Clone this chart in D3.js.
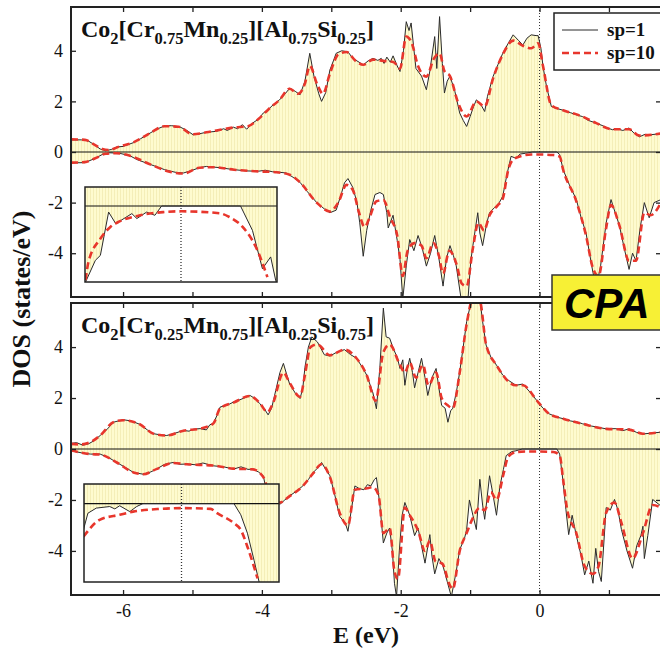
<!DOCTYPE html>
<html><head><meta charset="utf-8">
<script src="https://cdn.jsdelivr.net/npm/d3@7"></script>
<style>
html,body{margin:0;padding:0;background:#fff;}
svg{display:block;}
</style></head>
<body><svg id="chart" width="660" height="649" font-family="Liberation Serif, Times New Roman, serif"></svg>
<script>
// ---------------- DATA ----------------
const xTicks = [-6,-5,-4,-3,-2,-1,0,1];
const xTickLabels = ["-6","","-4","","-2","","0",""];
const yTicks = [-4,-2,0,2,4];
const yTickLabels = ["-4","-2","0","2","4"];
const seriesNames = ["sp=1","sp=10"];

// Top panel: Co2[Cr0.75Mn0.25][Al0.75Si0.25]
const topUpSp1 = [[-6.75,0.48],[-6.6,0.48],[-6.52,0.47],[-6.42,0.3],[-6.33,0.12],[-6.25,0.05],[-6.17,0.1],[-6.09,0.2],[-6.0,0.22],[-5.92,0.3],[-5.85,0.37],[-5.75,0.52],[-5.61,0.75],[-5.5,0.92],[-5.4,1.03],[-5.3,1.04],[-5.18,0.99],[-5.08,0.85],[-4.99,0.68],[-4.9,0.72],[-4.8,0.78],[-4.72,0.8],[-4.65,0.82],[-4.55,0.92],[-4.5,0.85],[-4.41,0.98],[-4.35,0.92],[-4.28,1.08],[-4.22,0.9],[-4.13,1.15],[-4.05,1.3],[-3.98,1.54],[-3.9,1.7],[-3.84,1.86],[-3.75,2.05],[-3.68,2.25],[-3.6,2.52],[-3.52,2.4],[-3.45,2.26],[-3.38,2.8],[-3.31,3.9],[-3.25,3.0],[-3.18,2.3],[-3.14,2.0],[-3.08,2.35],[-3.02,3.24],[-2.97,3.6],[-2.93,3.9],[-2.85,4.0],[-2.76,3.96],[-2.69,3.7],[-2.6,3.55],[-2.54,3.44],[-2.47,3.6],[-2.4,3.7],[-2.33,3.62],[-2.28,3.7],[-2.24,3.5],[-2.2,3.75],[-2.15,3.55],[-2.11,3.8],[-2.05,3.4],[-2.01,3.18],[-1.96,4.0],[-1.92,5.15],[-1.88,4.8],[-1.85,5.1],[-1.8,3.8],[-1.78,3.3],[-1.7,3.0],[-1.63,2.46],[-1.58,3.2],[-1.51,4.56],[-1.48,3.3],[-1.44,5.35],[-1.4,3.5],[-1.37,2.33],[-1.33,2.8],[-1.29,3.0],[-1.22,2.4],[-1.15,1.54],[-1.1,1.25],[-1.05,1.01],[-1.0,1.4],[-0.95,1.8],[-0.91,2.06],[-0.85,1.9],[-0.79,1.6],[-0.75,2.2],[-0.67,2.98],[-0.6,3.45],[-0.53,3.9],[-0.45,4.3],[-0.38,4.63],[-0.3,4.4],[-0.24,4.23],[-0.18,4.5],[-0.12,4.63],[-0.05,4.6],[-0.02,4.6],[0.02,4.1],[0.05,3.38],[0.1,2.6],[0.17,1.8],[0.25,1.72],[0.34,1.65],[0.45,1.55],[0.55,1.45],[0.62,1.4],[0.7,1.25],[0.81,1.15],[0.9,1.05],[0.98,0.95],[1.05,0.88],[1.12,0.92],[1.2,0.85],[1.29,0.95],[1.36,0.75],[1.44,0.6],[1.52,0.7],[1.6,0.68],[1.75,0.73]];
const topUpSp10 = [[-6.75,0.5],[-6.55,0.48],[-6.42,0.3],[-6.3,0.12],[-6.2,0.08],[-6.05,0.22],[-5.85,0.38],[-5.61,0.75],[-5.4,1.02],[-5.2,1.0],[-5.0,0.7],[-4.8,0.78],[-4.6,0.88],[-4.4,0.97],[-4.2,1.02],[-4.05,1.3],[-3.9,1.7],[-3.75,2.05],[-3.6,2.5],[-3.48,2.3],[-3.38,2.7],[-3.31,3.4],[-3.2,2.65],[-3.12,2.3],[-3.02,3.1],[-2.9,3.85],[-2.78,3.95],[-2.65,3.6],[-2.54,3.45],[-2.4,3.65],[-2.25,3.6],[-2.1,3.55],[-2.01,3.3],[-1.92,4.56],[-1.84,4.3],[-1.75,3.4],[-1.63,2.98],[-1.52,3.7],[-1.44,3.9],[-1.37,3.2],[-1.29,3.0],[-1.18,2.0],[-1.05,1.4],[-0.91,2.0],[-0.79,1.8],[-0.67,2.9],[-0.53,3.85],[-0.38,4.4],[-0.24,4.2],[-0.12,4.1],[-0.02,4.3],[0.05,3.4],[0.17,1.85],[0.34,1.65],[0.62,1.4],[0.81,1.15],[1.05,0.9],[1.29,0.9],[1.44,0.65],[1.75,0.73]];
const topDnSp1 = [[-6.75,-0.43],[-6.55,-0.42],[-6.4,-0.25],[-6.3,-0.1],[-6.2,-0.03],[-6.05,-0.05],[-5.9,-0.15],[-5.8,-0.3],[-5.6,-0.5],[-5.4,-0.7],[-5.25,-0.8],[-5.13,-0.83],[-5.0,-0.72],[-4.9,-0.62],[-4.8,-0.57],[-4.6,-0.62],[-4.4,-0.7],[-4.2,-0.75],[-4.05,-0.76],[-3.95,-0.72],[-3.85,-0.78],[-3.75,-0.8],[-3.65,-0.83],[-3.55,-1.0],[-3.45,-1.2],[-3.35,-1.55],[-3.21,-2.0],[-3.1,-2.25],[-3.02,-2.4],[-2.93,-2.3],[-2.85,-1.6],[-2.81,-1.22],[-2.76,-1.05],[-2.69,-1.4],[-2.63,-2.0],[-2.59,-2.8],[-2.54,-4.12],[-2.49,-3.1],[-2.43,-2.3],[-2.37,-1.68],[-2.3,-1.6],[-2.25,-1.68],[-2.2,-2.4],[-2.18,-3.0],[-2.11,-2.5],[-2.05,-3.5],[-2.01,-4.25],[-1.97,-5.8],[-1.92,-4.5],[-1.87,-3.46],[-1.81,-3.9],[-1.75,-3.3],[-1.69,-3.8],[-1.63,-4.51],[-1.57,-4.0],[-1.51,-3.3],[-1.45,-4.2],[-1.39,-5.3],[-1.34,-4.2],[-1.29,-3.7],[-1.24,-4.1],[-1.2,-4.5],[-1.13,-5.8],[-1.03,-5.8],[-0.99,-4.3],[-0.96,-3.7],[-0.89,-2.4],[-0.86,-3.2],[-0.82,-3.7],[-0.76,-2.8],[-0.72,-2.4],[-0.65,-2.2],[-0.58,-2.0],[-0.53,-1.75],[-0.47,-0.9],[-0.41,-0.17],[-0.34,-0.25],[-0.28,-0.08],[-0.2,-0.05],[-0.1,0],[0.25,0],[0.29,-0.1],[0.34,-0.7],[0.43,-1.3],[0.53,-1.88],[0.6,-2.6],[0.67,-3.2],[0.72,-4.0],[0.77,-4.77],[0.82,-5.3],[0.88,-4.5],[0.96,-2.8],[1.03,-1.88],[1.09,-2.4],[1.15,-2.9],[1.22,-3.8],[1.29,-4.64],[1.34,-4.0],[1.39,-4.3],[1.45,-3.0],[1.51,-2.0],[1.58,-2.6],[1.65,-2.0],[1.75,-1.88]];
const topDnSp10 = [[-6.75,-0.42],[-6.55,-0.4],[-6.4,-0.25],[-6.25,-0.07],[-6.1,-0.05],[-5.9,-0.15],[-5.6,-0.5],[-5.3,-0.8],[-5.13,-0.85],[-4.9,-0.62],[-4.7,-0.6],[-4.4,-0.7],[-4.1,-0.76],[-3.8,-0.8],[-3.6,-0.9],[-3.45,-1.2],[-3.21,-2.0],[-3.02,-2.35],[-2.9,-2.0],[-2.78,-1.3],[-2.69,-1.5],[-2.6,-2.4],[-2.52,-2.96],[-2.45,-2.6],[-2.35,-1.95],[-2.25,-1.9],[-2.15,-2.6],[-2.05,-3.3],[-1.97,-4.9],[-1.9,-3.9],[-1.8,-3.6],[-1.7,-3.7],[-1.63,-4.2],[-1.53,-3.6],[-1.45,-4.1],[-1.39,-4.8],[-1.3,-3.9],[-1.2,-4.4],[-1.12,-5.2],[-1.05,-5.3],[-0.96,-3.8],[-0.88,-2.8],[-0.8,-3.1],[-0.72,-2.5],[-0.6,-2.1],[-0.53,-1.85],[-0.45,-0.7],[-0.38,-0.3],[-0.25,-0.15],[-0.12,-0.1],[0.0,-0.1],[0.2,-0.12],[0.29,-0.18],[0.34,-0.7],[0.53,-1.95],[0.67,-3.3],[0.77,-4.6],[0.85,-4.9],[0.96,-3.0],[1.03,-2.1],[1.15,-2.9],[1.29,-4.3],[1.39,-4.3],[1.51,-2.4],[1.6,-2.5],[1.75,-2.0]];

// Bottom panel: Co2[Cr0.25Mn0.75][Al0.25Si0.75]
const botUpSp1 = [[-6.75,0.22],[-6.67,0.25],[-6.58,0.15],[-6.5,0.2],[-6.42,0.32],[-6.33,0.53],[-6.22,0.8],[-6.14,1.05],[-6.0,1.15],[-5.88,1.1],[-5.76,0.97],[-5.65,0.75],[-5.56,0.6],[-5.45,0.55],[-5.37,0.53],[-5.25,0.62],[-5.13,0.73],[-5.05,0.7],[-4.98,0.78],[-4.89,0.8],[-4.8,0.75],[-4.75,0.95],[-4.7,1.0],[-4.65,1.3],[-4.6,1.65],[-4.5,1.72],[-4.41,1.84],[-4.3,1.95],[-4.17,2.1],[-4.1,1.98],[-4.03,1.78],[-3.97,1.6],[-3.91,1.34],[-3.86,1.6],[-3.8,2.3],[-3.74,3.0],[-3.69,3.36],[-3.64,2.9],[-3.6,2.55],[-3.52,2.2],[-3.45,1.98],[-3.41,2.4],[-3.38,3.2],[-3.33,4.0],[-3.28,4.4],[-3.2,4.2],[-3.1,3.7],[-3.02,3.65],[-2.92,3.8],[-2.81,3.9],[-2.72,3.7],[-2.64,3.57],[-2.55,3.2],[-2.49,2.9],[-2.4,2.2],[-2.35,1.58],[-2.3,3.2],[-2.25,5.53],[-2.21,4.4],[-2.16,4.35],[-2.1,3.9],[-2.05,3.6],[-2.01,3.16],[-1.97,3.5],[-1.94,2.5],[-1.9,3.2],[-1.87,3.56],[-1.83,3.0],[-1.8,2.4],[-1.75,3.0],[-1.7,3.56],[-1.65,2.8],[-1.61,2.1],[-1.55,2.8],[-1.49,3.16],[-1.45,2.4],[-1.41,1.71],[-1.36,1.6],[-1.32,1.05],[-1.28,1.5],[-1.25,1.6],[-1.2,2.2],[-1.15,3.03],[-1.1,4.0],[-1.05,5.0],[-1.0,5.6],[-0.96,6.0],[-0.86,5.9],[-0.82,5.0],[-0.77,4.08],[-0.7,3.6],[-0.62,3.29],[-0.53,2.9],[-0.45,2.7],[-0.34,2.5],[-0.24,2.55],[-0.14,2.24],[-0.02,1.84],[0.05,1.6],[0.14,1.38],[0.25,1.25],[0.34,1.19],[0.45,1.1],[0.55,1.05],[0.62,0.99],[0.75,0.9],[0.85,0.85],[0.96,0.79],[1.1,0.8],[1.2,0.72],[1.29,0.79],[1.4,0.65],[1.49,0.59],[1.6,0.62],[1.75,0.66]];
const botUpSp10 = [[-6.75,0.2],[-6.6,0.18],[-6.45,0.3],[-6.33,0.53],[-6.14,1.05],[-6.0,1.13],[-5.76,0.97],[-5.56,0.6],[-5.37,0.53],[-5.13,0.72],[-4.89,0.8],[-4.7,1.0],[-4.6,1.6],[-4.41,1.82],[-4.17,2.08],[-4.03,1.8],[-3.92,1.45],[-3.84,1.8],[-3.69,3.0],[-3.6,2.6],[-3.45,2.05],[-3.38,2.9],[-3.3,4.0],[-3.2,4.1],[-3.02,3.68],[-2.81,3.9],[-2.64,3.57],[-2.49,2.9],[-2.36,1.9],[-2.25,3.8],[-2.16,4.1],[-2.01,3.3],[-1.94,3.0],[-1.87,3.4],[-1.78,2.8],[-1.68,3.3],[-1.6,2.5],[-1.49,3.0],[-1.41,2.0],[-1.32,1.71],[-1.25,1.6],[-1.15,3.0],[-1.05,4.9],[-0.96,5.9],[-0.86,5.8],[-0.77,4.1],[-0.62,3.29],[-0.34,2.5],[-0.24,2.5],[-0.02,1.84],[0.14,1.38],[0.34,1.19],[0.62,0.99],[0.96,0.79],[1.29,0.76],[1.49,0.6],[1.75,0.66]];
const botDnSp1 = [[-6.75,-0.07],[-6.6,-0.15],[-6.47,-0.2],[-6.33,-0.2],[-6.2,-0.35],[-6.09,-0.53],[-5.95,-0.75],[-5.85,-0.92],[-5.71,-0.99],[-5.6,-0.9],[-5.52,-0.79],[-5.4,-0.6],[-5.28,-0.53],[-5.18,-0.6],[-5.08,-0.59],[-4.95,-0.62],[-4.85,-0.55],[-4.7,-0.66],[-4.55,-0.7],[-4.41,-0.79],[-4.3,-0.7],[-4.2,-0.8],[-4.13,-0.79],[-4.05,-0.9],[-3.98,-1.05],[-3.93,-1.71],[-3.85,-1.9],[-3.74,-2.17],[-3.67,-2.0],[-3.6,-1.84],[-3.5,-1.65],[-3.41,-1.45],[-3.33,-1.2],[-3.26,-0.92],[-3.18,-0.7],[-3.14,-0.53],[-3.08,-0.8],[-3.02,-1.05],[-2.95,-1.8],[-2.88,-2.64],[-2.8,-2.9],[-2.76,-3.23],[-2.7,-2.2],[-2.66,-1.45],[-2.6,-1.55],[-2.53,-1.6],[-2.48,-1.4],[-2.43,-1.45],[-2.38,-1.2],[-2.35,-1.12],[-2.3,-2.2],[-2.25,-3.69],[-2.2,-3.3],[-2.16,-3.1],[-2.12,-4.0],[-2.09,-5.27],[-2.06,-5.8],[-2.02,-4.0],[-1.98,-2.6],[-1.94,-2.1],[-1.87,-2.6],[-1.8,-3.4],[-1.75,-3.1],[-1.7,-3.8],[-1.65,-4.48],[-1.58,-3.36],[-1.55,-4.2],[-1.51,-4.9],[-1.45,-4.3],[-1.39,-4.6],[-1.33,-5.2],[-1.27,-5.8],[-1.2,-4.8],[-1.15,-3.95],[-1.08,-3.5],[-1.05,-3.16],[-1.01,-2.0],[-0.96,-2.6],[-0.91,-3.16],[-0.86,-1.19],[-0.82,-2.2],[-0.79,-2.76],[-0.72,-1.05],[-0.67,-1.8],[-0.62,-2.6],[-0.57,-1.45],[-0.52,-0.8],[-0.48,-0.26],[-0.4,-0.1],[-0.34,-0.07],[-0.25,0],[0.25,0],[0.29,-0.2],[0.34,-1.3],[0.38,-2.37],[0.42,-3.36],[0.47,-2.6],[0.53,-3.4],[0.6,-4.2],[0.65,-4.94],[0.71,-4.4],[0.77,-5.27],[0.81,-3.9],[0.85,-4.8],[0.89,-5.2],[0.96,-2.3],[1.02,-2.4],[1.08,-1.98],[1.13,-2.4],[1.18,-3.16],[1.26,-4.0],[1.34,-4.68],[1.4,-3.8],[1.46,-3.4],[1.49,-3.03],[1.51,-4.3],[1.56,-3.4],[1.63,-1.98],[1.75,-2.24]];
const botDnSp10 = [[-6.75,-0.05],[-6.47,-0.2],[-6.33,-0.22],[-6.09,-0.53],[-5.85,-0.92],[-5.71,-0.99],[-5.52,-0.79],[-5.28,-0.55],[-5.08,-0.6],[-4.7,-0.65],[-4.41,-0.77],[-4.13,-0.8],[-3.98,-1.1],[-3.9,-1.7],[-3.74,-2.1],[-3.6,-1.85],[-3.41,-1.45],[-3.26,-0.95],[-3.14,-0.6],[-3.02,-1.1],[-2.88,-2.5],[-2.76,-3.0],[-2.66,-1.6],[-2.5,-1.55],[-2.4,-1.5],[-2.32,-1.8],[-2.25,-3.3],[-2.16,-3.1],[-2.09,-4.8],[-2.04,-5.1],[-1.94,-2.3],[-1.87,-2.6],[-1.75,-3.2],[-1.65,-4.0],[-1.58,-3.6],[-1.5,-4.4],[-1.4,-4.5],[-1.3,-5.3],[-1.25,-5.5],[-1.15,-4.0],[-1.05,-3.3],[-0.96,-2.7],[-0.86,-2.3],[-0.79,-2.4],[-0.7,-1.7],[-0.62,-2.0],[-0.52,-1.0],[-0.45,-0.3],[-0.34,-0.12],[-0.2,-0.1],[0,-0.1],[0.2,-0.12],[0.29,-0.25],[0.34,-1.2],[0.4,-2.4],[0.53,-3.3],[0.65,-4.6],[0.77,-4.9],[0.85,-4.6],[0.96,-2.5],[1.08,-2.1],[1.18,-2.9],[1.34,-4.3],[1.49,-3.3],[1.63,-2.2],[1.75,-2.3]];

// Insets: zoom of spin-down DOS around E_F
const topInsetSp1 = [[-0.497,-0.4],[-0.446,-0.286],[-0.42,-0.26],[-0.377,-0.032],[-0.34,-0.093],[-0.256,-0.04],[-0.23,-0.066],[-0.179,-0.032],[-0.136,-0.049],[-0.101,0],[0.31,0],[0.372,-0.128],[0.424,-0.33],[0.467,-0.268],[0.493,-0.39],[0.55,-0.6]];
const topInsetSp10 = [[-0.497,-0.39],[-0.482,-0.295],[-0.42,-0.172],[-0.368,-0.11],[-0.317,-0.08],[-0.213,-0.049],[-0.093,-0.032],[0.002,-0.028],[0.2,-0.038],[0.252,-0.058],[0.321,-0.11],[0.39,-0.216],[0.45,-0.374]];
const botInsetSp1 = [[-0.503,-0.134],[-0.48,-0.049],[-0.437,-0.023],[-0.368,-0.015],[-0.342,-0.027],[-0.317,-0.011],[-0.265,-0.041],[-0.23,-0.015],[-0.198,0],[0.269,0],[0.304,-0.057],[0.338,-0.151],[0.372,-0.289],[0.398,-0.4],[0.42,-0.6],[0.55,-0.6]];
const botInsetSp10 = [[-0.503,-0.169],[-0.42,-0.083],[-0.317,-0.057],[-0.248,-0.041],[-0.11,-0.027],[0,-0.023],[0.149,-0.027],[0.183,-0.049],[0.269,-0.1],[0.304,-0.134],[0.338,-0.22],[0.39,-0.382]];

const topTitle = [["Co",""],["2","sub"],["[Cr",""],["0.75","sub"],["Mn",""],["0.25","sub"],["][Al",""],["0.75","sub"],["Si",""],["0.25","sub"],["]",""]];
const botTitle = [["Co",""],["2","sub"],["[Cr",""],["0.25","sub"],["Mn",""],["0.75","sub"],["][Al",""],["0.25","sub"],["Si",""],["0.75","sub"],["]",""]];

// ---------------- DRAWING ----------------
const SERIF = "Liberation Serif, Times New Roman, serif";
const svg = d3.select("#chart");
const defs = svg.append("defs");
const pat = defs.append("pattern").attr("id","hatch").attr("patternUnits","userSpaceOnUse")
  .attr("width",3).attr("height",10);
pat.append("rect").attr("width",3).attr("height",10).attr("fill","#fefbcf");
pat.append("rect").attr("x",0).attr("width",1).attr("height",10).attr("fill","#f4eeb8");

const X0 = 71, X1 = 661;
const x = d3.scaleLinear().domain([-6.75,1.75]).range([X0,X1]);
const BLACK = "#2a2a2a", RED = "#e8362c";

const panels = [
  {top:7, bottom:297, up1:topUpSp1, up10:topUpSp10, dn1:topDnSp1, dn10:topDnSp10, title:topTitle, titleY:37, showX:false,
   inset:{x0:85,x1:277,y0:187,y1:282,s1:topInsetSp1,s10:topInsetSp10}},
  {top:303, bottom:595, up1:botUpSp1, up10:botUpSp10, dn1:botDnSp1, dn10:botDnSp10, title:botTitle, titleY:333, showX:true,
   inset:{x0:84,x1:279,y0:484,y1:582,s1:botInsetSp1,s10:botInsetSp10}}
];

panels.forEach((p,i)=>{
  const y = d3.scaleLinear().domain([-5.73,5.73]).range([p.bottom,p.top]);
  const cid = "clip"+i;
  defs.append("clipPath").attr("id",cid).append("rect")
    .attr("x",X0).attr("y",p.top).attr("width",X1-X0).attr("height",p.bottom-p.top);
  const g = svg.append("g").attr("clip-path",`url(#${cid})`);
  const area = d3.area().x(d=>x(d[0])).y0(y(0)).y1(d=>y(d[1]));
  g.append("path").datum(p.up1).attr("d",area).attr("fill","url(#hatch)");
  g.append("path").datum(p.dn1).attr("d",area).attr("fill","url(#hatch)");
  g.append("line").attr("x1",X0).attr("x2",X1).attr("y1",y(0)).attr("y2",y(0))
    .attr("stroke","#111").attr("stroke-width",1);
  g.append("line").attr("x1",x(0)).attr("x2",x(0)).attr("y1",p.top).attr("y2",p.bottom)
    .attr("stroke","#333").attr("stroke-width",1).attr("stroke-dasharray","1,2");
  const l1 = d3.line().x(d=>x(d[0])).y(d=>y(d[1]));
  const l10 = d3.line().x(d=>x(d[0])).y(d=>y(d[1])).curve(d3.curveMonotoneX);
  [p.up1,p.dn1].forEach(s=>g.append("path").datum(s).attr("d",l1).attr("fill","none")
    .attr("stroke",BLACK).attr("stroke-width",1));
  [p.up10,p.dn10].forEach(s=>g.append("path").datum(s).attr("d",l10).attr("fill","none")
    .attr("stroke",RED).attr("stroke-width",2.6).attr("stroke-dasharray","7,4"));

  // axes
  const axB = d3.axisBottom(x).tickValues(xTicks).tickSize(-5).tickPadding(9)
    .tickFormat((d,k)=> p.showX ? xTickLabels[k] : "");
  const axT = d3.axisTop(x).tickValues(xTicks).tickSize(-5).tickFormat("");
  const axL = d3.axisLeft(y).tickValues(yTicks).tickSize(-5).tickPadding(8)
    .tickFormat((d,k)=>yTickLabels[k]);
  const axR = d3.axisRight(y).tickValues(yTicks).tickSize(-5).tickFormat("");
  const styleAx = sel => { sel.select(".domain").remove();
    sel.attr("font-family",SERIF).attr("font-size",18);
    sel.selectAll(".tick line").attr("stroke","#222").attr("stroke-width",1.3);
    sel.selectAll("text").attr("fill","#111"); };
  svg.append("g").attr("transform",`translate(0,${p.bottom})`).call(axB).call(styleAx);
  svg.append("g").attr("transform",`translate(0,${p.top})`).call(axT).call(styleAx);
  svg.append("g").attr("transform",`translate(${X0},0)`).call(axL).call(styleAx);
  svg.append("g").attr("transform",`translate(${X1},0)`).call(axR).call(styleAx);
  svg.append("rect").attr("x",X0).attr("y",p.top).attr("width",X1-X0).attr("height",p.bottom-p.top)
    .attr("fill","none").attr("stroke","#222").attr("stroke-width",2);

  // title
  const t = svg.append("text").attr("x",81).attr("y",p.titleY).attr("font-weight","bold").attr("font-size",24).attr("fill","#111");
  p.title.forEach(([s,type],k)=>{
    const prev = k>0 ? p.title[k-1][1] : "";
    const ts = t.append("tspan").text(s);
    if(type==="sub"){ ts.attr("font-size",16.5).attr("dy",7); }
    else if(prev==="sub"){ ts.attr("dy",-7); }
  });

  // inset
  const ins = p.inset;
  const xi = d3.scaleLinear().domain([-0.5,0.5]).range([ins.x0,ins.x1]);
  const yi = d3.scaleLinear().domain([-0.4,0.1]).range([ins.y1,ins.y0]);
  const icid = "iclip"+i;
  defs.append("clipPath").attr("id",icid).append("rect")
    .attr("x",ins.x0).attr("y",ins.y0).attr("width",ins.x1-ins.x0).attr("height",ins.y1-ins.y0);
  svg.append("rect").attr("x",ins.x0).attr("y",ins.y0).attr("width",ins.x1-ins.x0).attr("height",ins.y1-ins.y0)
    .attr("fill","#fff");
  const gi = svg.append("g").attr("clip-path",`url(#${icid})`);
  gi.append("rect").attr("x",ins.x0).attr("y",ins.y0).attr("width",ins.x1-ins.x0).attr("height",yi(0)-ins.y0)
    .attr("fill","url(#hatch)");
  const ai = d3.area().x(d=>xi(d[0])).y0(yi(0)).y1(d=>yi(d[1]));
  gi.append("path").datum(ins.s1).attr("d",ai).attr("fill","url(#hatch)");
  gi.append("line").attr("x1",ins.x0).attr("x2",ins.x1).attr("y1",yi(0)).attr("y2",yi(0))
    .attr("stroke","#111").attr("stroke-width",1.2);
  gi.append("line").attr("x1",xi(0)).attr("x2",xi(0)).attr("y1",ins.y0).attr("y2",ins.y1)
    .attr("stroke","#333").attr("stroke-width",1.3).attr("stroke-dasharray","1,2");
  gi.append("path").datum(ins.s1).attr("d",d3.line().x(d=>xi(d[0])).y(d=>yi(d[1])))
    .attr("fill","none").attr("stroke",BLACK).attr("stroke-width",1);
  gi.append("path").datum(ins.s10).attr("d",d3.line().x(d=>xi(d[0])).y(d=>yi(d[1])).curve(d3.curveMonotoneX))
    .attr("fill","none").attr("stroke",RED).attr("stroke-width",2.6).attr("stroke-dasharray","7,4");
  svg.append("rect").attr("x",ins.x0).attr("y",ins.y0).attr("width",ins.x1-ins.x0).attr("height",ins.y1-ins.y0)
    .attr("fill","none").attr("stroke","#222").attr("stroke-width",1.5);
});

// legend
const lg = svg.append("g");
lg.append("rect").attr("x",554).attr("y",13).attr("width",112).attr("height",57)
  .attr("fill","#fff").attr("stroke","#222").attr("stroke-width",1.5);
lg.append("line").attr("x1",562).attr("x2",598).attr("y1",30).attr("y2",30).attr("stroke",BLACK).attr("stroke-width",1);
lg.append("line").attr("x1",562).attr("x2",598).attr("y1",53).attr("y2",53).attr("stroke",RED)
  .attr("stroke-width",2.6).attr("stroke-dasharray","7,4");
lg.append("text").attr("x",607).attr("y",36).attr("font-weight","bold").attr("font-size",19).attr("fill","#111").text(seriesNames[0]);
lg.append("text").attr("x",607).attr("y",59).attr("font-weight","bold").attr("font-size",19).attr("fill","#111").text(seriesNames[1]);

// CPA badge
svg.append("rect").attr("x",552).attr("y",275).attr("width",112).attr("height",55)
  .attr("fill","#f7f035").attr("stroke","#333").attr("stroke-width",1.5);
svg.append("text").attr("x",564).attr("y",318).attr("font-family","Liberation Sans, Arial, sans-serif")
  .attr("font-weight","bold").attr("font-style","italic").attr("font-size",42).attr("fill","#000").text("CPA");

// axis titles
svg.append("text").attr("transform","translate(30,299) rotate(-90)").attr("text-anchor","middle")
  .attr("font-weight","bold").attr("font-size",26).attr("fill","#111").text("DOS (states/eV)");
svg.append("text").attr("x",366).attr("y",643).attr("text-anchor","middle")
  .attr("font-weight","bold").attr("font-size",24).attr("fill","#111").text("E (eV)");
</script></body></html>
